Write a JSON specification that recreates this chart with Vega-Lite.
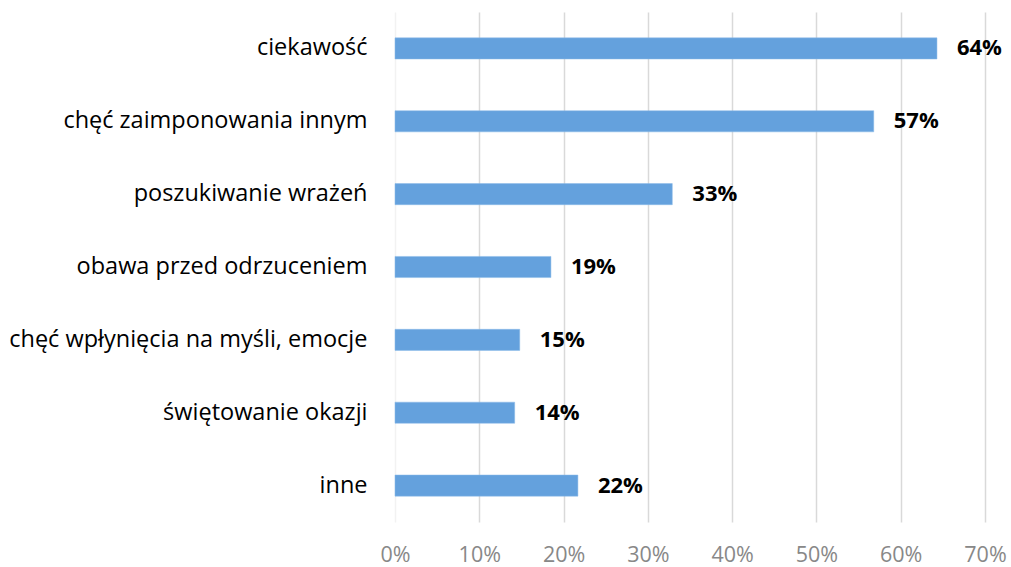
{
  "$schema": "https://vega.github.io/schema/vega-lite/v6.json",
  "autosize": "none",
  "padding": {"left": 395, "top": 12, "right": 26, "bottom": 45},
  "width": 590,
  "height": 510,
  "background": "white",
  "config": {"view": {"stroke": null}, "font": "Open Sans"},
  "data": {"values": [
    {"cat": "ciekawość", "value": 0.643},
    {"cat": "chęć zaimponowania innym", "value": 0.568},
    {"cat": "poszukiwanie wrażeń", "value": 0.329},
    {"cat": "obawa przed odrzuceniem", "value": 0.185},
    {"cat": "chęć wpłynięcia na myśli, emocje", "value": 0.148},
    {"cat": "świętowanie okazji", "value": 0.142},
    {"cat": "inne", "value": 0.217}
  ]},
  "encoding": {
    "y": {
      "field": "cat", "type": "nominal", "sort": null, "title": null,
      "scale": {"paddingInner": 0.71, "paddingOuter": 0.355},
      "axis": {"domain": false, "ticks": false, "labelFontSize": 23.5, "labelColor": "#000000", "labelPadding": 28, "labelFont": "Open Sans", "labelLimit": 450}
    },
    "x": {
      "field": "value", "type": "quantitative", "title": null,
      "scale": {"domain": [0, 0.7], "nice": false},
      "axis": {"format": ".0%", "values": [0, 0.1, 0.2, 0.3, 0.4, 0.5, 0.6, 0.7], "domain": false, "ticks": false, "labelFontSize": 21.5, "labelColor": "#888888", "labelPadding": 22, "labelFont": "Open Sans", "labelFlush": false, "labelOverlap": false,
        "gridColor": {"condition": {"test": "datum.value === 0", "value": "#f2f2f2"}, "value": "#d9d9d9"}, "gridWidth": 1.5}
    }
  },
  "layer": [
    {"mark": {"type": "bar", "color": "#64a1dd", "stroke": "#8bbbe8", "strokeWidth": 0.5}},
    {"mark": {"type": "text", "align": "left", "dx": 20, "fontSize": 22, "fontWeight": "bold", "color": "#000000", "font": "Open Sans"},
     "encoding": {"text": {"field": "value", "type": "quantitative", "format": ".0%"}}}
  ]
}
